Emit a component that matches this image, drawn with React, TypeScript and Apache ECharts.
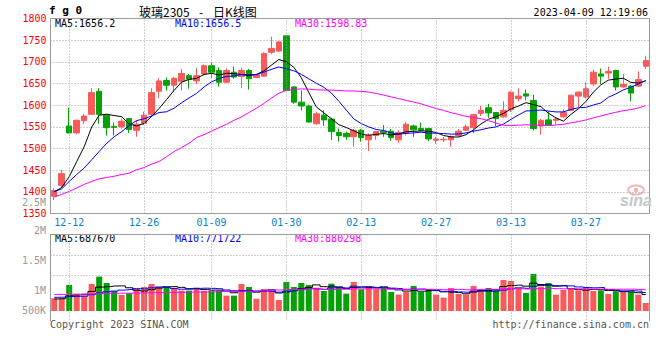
import React, { useEffect, useRef } from 'react';
import * as echarts from 'echarts';

// ---------- data ----------
const dates = [
  '12-08', '12-09', '12-12', '12-13', '12-14', '12-15', '12-16', '12-19', '12-20', '12-21',
  '12-22', '12-23', '12-26', '12-27', '12-28', '12-29', '12-30', '01-03', '01-04', '01-05',
  '01-06', '01-09', '01-10', '01-11', '01-12', '01-13', '01-16', '01-17', '01-18', '01-19',
  '01-20', '01-30', '01-31', '02-01', '02-02', '02-03', '02-06', '02-07', '02-08', '02-09',
  '02-10', '02-13', '02-14', '02-15', '02-16', '02-17', '02-20', '02-21', '02-22', '02-23',
  '02-24', '02-27', '02-28', '03-01', '03-02', '03-03', '03-06', '03-07', '03-08', '03-09',
  '03-10', '03-13', '03-14', '03-15', '03-16', '03-17', '03-20', '03-21', '03-22', '03-23',
  '03-24', '03-27', '03-28', '03-29', '03-30', '03-31', '04-03', '04-04', '04-06', '04-07',
];
const xTickLabels = ['12-12', '12-26', '01-09', '01-30', '02-13', '02-27', '03-13', '03-27'];

const opens = [
  1390, 1415, 1552, 1536, 1564, 1579, 1632, 1577, 1551, 1550,
  1569, 1542, 1558, 1579, 1632, 1657, 1646, 1655, 1668, 1656,
  1672, 1691, 1680, 1653, 1676, 1666, 1680, 1664, 1667, 1722,
  1725, 1760, 1642, 1607, 1598, 1557, 1577, 1568, 1537, 1535,
  1527, 1542, 1520, 1530, 1540, 1540, 1520, 1535, 1552, 1546,
  1546, 1519, 1520, 1520, 1530, 1542, 1548, 1581, 1594, 1583,
  1573, 1590, 1615, 1626, 1611, 1552, 1566, 1565, 1573, 1588,
  1621, 1619, 1649, 1672, 1674, 1680, 1642, 1644, 1644, 1690,
];
const closes = [
  1403, 1442, 1536, 1565, 1575, 1629, 1579, 1548, 1549, 1563,
  1544, 1556, 1577, 1629, 1656, 1646, 1662, 1673, 1660, 1668,
  1691, 1676, 1653, 1680, 1665, 1680, 1661, 1670, 1719, 1731,
  1746, 1634, 1607, 1598, 1561, 1580, 1566, 1539, 1530, 1527,
  1542, 1525, 1530, 1539, 1537, 1525, 1537, 1556, 1543, 1542,
  1522, 1522, 1521, 1527, 1540, 1550, 1578, 1588, 1582, 1569,
  1588, 1630, 1621, 1621, 1546, 1565, 1554, 1568, 1583, 1623,
  1630, 1638, 1676, 1667, 1678, 1642, 1648, 1628, 1659, 1703,
];
const lows = [
  1381, 1409, 1535, 1533, 1557, 1577, 1557, 1530, 1530, 1546,
  1536, 1527, 1554, 1573, 1616, 1634, 1630, 1634, 1638, 1649,
  1668, 1663, 1643, 1651, 1661, 1639, 1636, 1663, 1666, 1718,
  1723, 1632, 1603, 1588, 1560, 1555, 1552, 1520, 1516, 1520,
  1504, 1516, 1494, 1520, 1527, 1517, 1513, 1530, 1527, 1539,
  1517, 1511, 1515, 1504, 1527, 1540, 1535, 1575, 1571, 1552,
  1571, 1584, 1609, 1611, 1542, 1532, 1552, 1554, 1571, 1586,
  1596, 1616, 1644, 1649, 1661, 1634, 1640, 1609, 1642, 1684,
];
const highs = [
  1408, 1451, 1594, 1567, 1580, 1639, 1639, 1579, 1560, 1569,
  1570, 1565, 1585, 1639, 1662, 1664, 1665, 1684, 1672, 1686,
  1694, 1699, 1687, 1685, 1689, 1687, 1684, 1672, 1722, 1758,
  1748, 1761, 1644, 1634, 1601, 1584, 1588, 1571, 1546, 1539,
  1545, 1545, 1535, 1540, 1554, 1545, 1542, 1561, 1555, 1560,
  1548, 1527, 1527, 1530, 1545, 1555, 1580, 1598, 1603, 1584,
  1609, 1632, 1639, 1636, 1624, 1568, 1586, 1573, 1590, 1624,
  1632, 1653, 1682, 1685, 1689, 1682, 1672, 1646, 1678, 1714,
];
const volumes = [
  529000, 529000, 1085000, 696000, 640000, 1127000, 1433000, 1168000, 835000, 668000,
  737000, 919000, 1001000, 1127000, 1001000, 1001000, 947000, 849000, 849000, 974000,
  835000, 849000, 835000, 640000, 640000, 1127000, 1001000, 515000, 919000, 863000,
  459000, 1211000, 1001000, 1168000, 1085000, 974000, 835000, 1140000, 1001000, 724000,
  1211000, 904000, 1044000, 904000, 974000, 793000, 682000, 807000, 1044000, 793000,
  919000, 682000, 557000, 960000, 709000, 682000, 1044000, 876000, 960000, 919000,
  1294000, 1252000, 960000, 752000, 1545000, 1016000, 1168000, 682000, 876000, 919000,
  863000, 1001000, 835000, 863000, 709000, 821000, 807000, 793000, 682000, 334000,
];

const ma5Lead = [1400, 1410, 1435, 1470];
const ma10Lead = [1400, 1407, 1424, 1440, 1455, 1474, 1493, 1512, 1527];
const ma30Lead = [
  1388, 1394, 1401, 1409, 1417, 1424, 1430, 1433, 1436, 1440,
  1443, 1451, 1456, 1464, 1470, 1481, 1493, 1502, 1512, 1525,
  1532, 1540, 1548, 1556, 1565, 1573, 1583, 1593, 1604,
];
const volMa5Lead = [500000, 512000, 629000, 668000];
const volMa10Lead = [570000, 575000, 600000, 610000, 620000, 680000, 750000, 800000, 830000];
const volMa30Lead = [
  690000, 692000, 700000, 702000, 705000, 712000, 725000, 735000, 740000, 742000,
  745000, 750000, 755000, 762000, 768000, 772000, 778000, 780000, 785000, 790000,
  795000, 800000, 805000, 808000, 812000, 820000, 830000, 835000, 845000,
];

const priceMin = 1350;
const priceMax = 1800;
const priceStep = 50;
const volAxisLabels = ['2.5M', '2M', '1.5M', '1M', '500K'];
const headerTexts = { code: 'f g 0', name: '玻璃2305', dash: '-', kind: '日K线图', time: '2023-04-09 12:19:06' };
const priceMaTexts = ['MA5:1656.2', 'MA10:1656.5', 'MA30:1598.83'];
const volMaTexts = ['MA5:687670', 'MA10:771722', 'MA30:880298'];
const footerTexts = ['Copyright 2023 SINA.COM', 'http://finance.sina.com.cn'];

// ---------- layout / styles ----------
const MONO = '"DejaVu Sans Mono", monospace';
const RED = '#f85a5a';
const GREEN = '#06a106';
const MA_COLORS = ['#000000', '#0000ff', '#ff00ff'];
const GRID_LINE = { color: '#a0a0a0', type: [1, 2] as number[], width: 1 };
const PLOT_LEFT = 50.5;
const PLOT_WIDTH = 599;
const VOL_PX_PER_UNIT = 24 / 1000000;
const VOL_BAR_HEIGHT = 76.5;
const volLabelY = [202, 230.3, 260.5, 290.7, 310.7];
const maTextX = [55, 175, 295];

function movingAverage(values: number[], n: number, lead: number[]) {
  return values.map((_, i) => {
    if (i < n - 1) return lead[i];
    let s = 0;
    for (let k = i - n + 1; k <= i; k++) s += values[k];
    return Math.round((s / n) * 100) / 100;
  });
}

export default function App() {
  const ref = useRef<HTMLDivElement>(null);

  useEffect(() => {
    if (!ref.current) return;
    const chart = echarts.init(ref.current, undefined, { renderer: 'svg' });

    const candleData = dates.map((_, i) => [opens[i], closes[i], lows[i], highs[i]]);
    const ma5 = movingAverage(closes, 5, ma5Lead);
    const ma10 = movingAverage(closes, 10, ma10Lead);
    const ma30 = movingAverage(closes, 30, ma30Lead);
    const vma5 = movingAverage(volumes, 5, volMa5Lead);
    const vma10 = movingAverage(volumes, 10, volMa10Lead);
    const vma30 = movingAverage(volumes, 30, volMa30Lead);

    const dotted = {
      silent: true,
      symbol: ['none', 'none'],
      label: { show: false },
      emphasis: { disabled: true },
      lineStyle: { ...GRID_LINE },
    };

    const text = (x: number, y: number, t: string, color: string, extra: any = {}) => ({
      type: 'text',
      x,
      y,
      silent: true,
      style: { text: t, fill: color, font: `10px ${MONO}`, verticalAlign: 'middle', lineHeight: 10, ...extra },
    });

    const graphics: any[] = [
      text(49, 10.5, headerTexts.code, '#000', { font: `bold 11px ${MONO}`, lineHeight: 12 }),
      text(139, 11, headerTexts.name, '#000', { font: '12px "Noto Sans CJK SC"', lineHeight: 12 }),
      text(199, 11, headerTexts.dash, '#000', { font: '12px "Noto Sans CJK SC"', lineHeight: 12 }),
      text(213, 11, headerTexts.kind, '#000', { font: '12px "Noto Sans CJK SC"', lineHeight: 12 }),
      text(648, 12, headerTexts.time, '#000', { align: 'right' }),
      ...priceMaTexts.map((t, i) => text(maTextX[i], 23.5, t, MA_COLORS[i])),
      ...volMaTexts.map((t, i) => text(maTextX[i], 238.5, t, MA_COLORS[i])),
      ...volAxisLabels.map((t, i) => text(46, volLabelY[i], t, '#999', { align: 'right' })),
      text(50, 324.5, footerTexts[0], '#555'),
      text(649, 324.5, footerTexts[1], '#555', { align: 'right' }),
      {
        type: 'group',
        silent: true,
        children: [
          { type: 'ellipse', shape: { cx: 636, cy: 190, rx: 8, ry: 4.5 }, style: { fill: 'none', stroke: '#f4b4b4', lineWidth: 2 } },
          { type: 'circle', shape: { cx: 636, cy: 190, r: 2.3 }, style: { fill: '#f4b4b4' } },
          { type: 'text', x: 620, y: 200.5, style: { text: 'sina', fill: '#c6c6c6', font: 'italic bold 16px "Liberation Sans"', verticalAlign: 'middle' } },
        ],
      },
    ];

    const option: any = {
      animation: false,
      backgroundColor: '#ffffff',
      grid: [
        { left: PLOT_LEFT, top: 18.5, width: PLOT_WIDTH, height: 195, show: true, borderColor: '#999', borderWidth: 1 },
        { left: PLOT_LEFT, top: 234.5, width: PLOT_WIDTH, height: VOL_BAR_HEIGHT },
        { left: PLOT_LEFT, top: 234.5, width: PLOT_WIDTH, height: 86.5 },
      ],
      xAxis: [
        {
          type: 'category', gridIndex: 0, data: dates, boundaryGap: true,
          axisLine: { show: false }, axisTick: { show: false }, splitLine: { show: false },
          axisLabel: {
            interval: (_i: number, v: string) => xTickLabels.includes(v),
            color: '#0a7fd0', fontFamily: MONO, fontSize: 10, margin: 4,
          },
        },
        { type: 'category', gridIndex: 1, data: dates, boundaryGap: true, show: false },
        {
          type: 'category', gridIndex: 2, data: dates, boundaryGap: true, position: 'top',
          axisLine: { show: true, onZero: false, lineStyle: { color: '#999', width: 1 } },
          axisTick: { show: false }, axisLabel: { show: false }, splitLine: { show: false },
        },
      ],
      yAxis: [
        {
          type: 'value', gridIndex: 0, min: priceMin, max: priceMax, interval: priceStep,
          axisLine: { show: false }, axisTick: { show: false },
          splitLine: { show: true, lineStyle: { ...GRID_LINE } },
          axisLabel: {
            color: '#ff0000', fontFamily: MONO, fontSize: 10, margin: 4, lineHeight: 10,
            formatter: (v: number) => String(v),
          },
        },
        { type: 'value', gridIndex: 1, min: 0, max: VOL_BAR_HEIGHT / VOL_PX_PER_UNIT, show: false, splitLine: { show: false } },
        {
          type: 'value', gridIndex: 2, min: 0, max: 4.2, inverse: true, position: 'left',
          axisLine: { show: true, onZero: false, lineStyle: { color: '#999', width: 1 } },
          axisTick: { show: false }, axisLabel: { show: false }, splitLine: { show: false },
        },
        {
          type: 'value', gridIndex: 2, min: 0, max: 4.2, inverse: true, position: 'right',
          axisLine: { show: true, onZero: false, lineStyle: { color: '#999', width: 1 } },
          axisTick: { show: false }, axisLabel: { show: false }, splitLine: { show: false },
        },
      ],
      series: [
        {
          type: 'candlestick', xAxisIndex: 0, yAxisIndex: 0, data: candleData, barWidth: 6,
          itemStyle: { color: RED, color0: GREEN, borderColor: RED, borderColor0: GREEN, borderWidth: 1 },
          markLine: { ...dotted, data: xTickLabels.map((d) => ({ xAxis: d })) },
        },
        ...[ma5, ma10, ma30].map((d, k) => ({
          type: 'line', xAxisIndex: 0, yAxisIndex: 0, data: d, symbol: 'none', silent: true,
          lineStyle: { color: MA_COLORS[k], width: 1 },
        })),
        {
          type: 'line', xAxisIndex: 2, yAxisIndex: 2, data: dates.map(() => null), symbol: 'none', silent: true,
          markLine: { ...dotted, data: [...xTickLabels.map((d) => ({ xAxis: d })), { yAxis: 1 }, { yAxis: 2 }] },
        },
        {
          type: 'bar', xAxisIndex: 1, yAxisIndex: 1, barWidth: 6, silent: true,
          data: volumes.map((v, i) => ({ value: v, itemStyle: { color: closes[i] >= opens[i] ? RED : GREEN } })),
        },
        ...[vma5, vma10, vma30].map((d, k) => ({
          type: 'line', xAxisIndex: 1, yAxisIndex: 1, data: d, symbol: 'none', silent: true, step: 'middle',
          lineStyle: { color: MA_COLORS[k], width: 1 },
        })),
      ],
      graphic: graphics,
    };

    chart.setOption(option);
    return () => chart.dispose();
  }, []);

  return (
    <div
      ref={ref}
      style={{ position: 'fixed', left: 0, top: 0, width: 660, height: 360, background: '#fff' }}
    />
  );
}
